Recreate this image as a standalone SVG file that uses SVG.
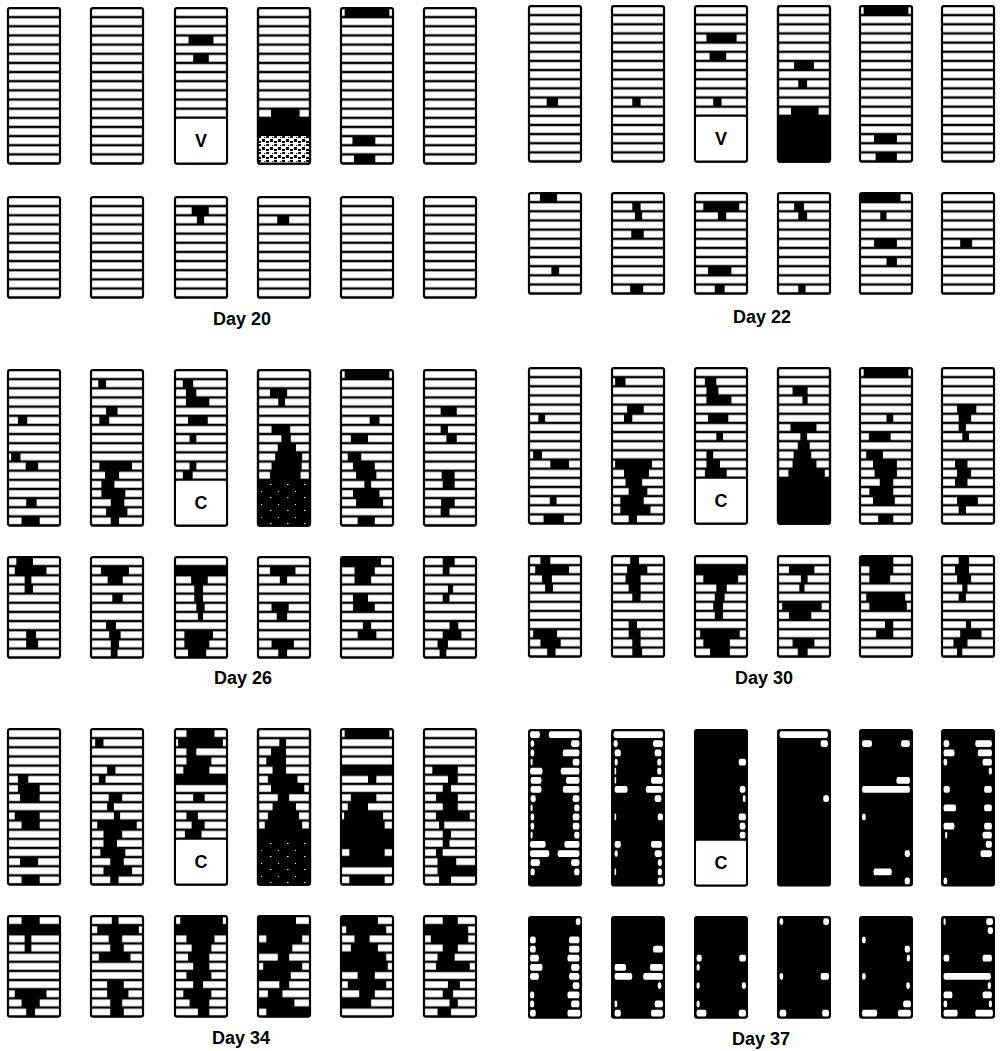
<svg xmlns="http://www.w3.org/2000/svg" width="1000" height="1051" viewBox="0 0 1000 1051">
<style>
.col{fill:url(#rows);stroke:#000;stroke-width:2.2}
.blk{fill:#000;stroke:#000;stroke-width:2}
.ol{fill:none;stroke:#000;stroke-width:2.2}
.box{fill:#fff;stroke:#000;stroke-width:2}
.s rect{fill:#000}
.w rect{fill:#fff}
.lab,.bx{font-family:"Liberation Sans",Arial,sans-serif;font-weight:bold;font-size:18px;text-anchor:middle;fill:#000}
</style>
<defs>
<pattern id="rows" width="52" height="9.15" patternUnits="userSpaceOnUse"><rect width="52" height="9.15" fill="#fff"/><rect width="52" height="1.2" fill="#000"/><rect y="7.95" width="52" height="1.2" fill="#000"/></pattern>
<pattern id="stD" width="17" height="13" patternUnits="userSpaceOnUse"><rect width="17" height="13" fill="#000"/><rect x="3" y="4" width="1" height="1" fill="#fff"/><rect x="12" y="10" width="1.5" height="1" fill="#fff"/></pattern>
<pattern id="stL" width="8" height="8" patternUnits="userSpaceOnUse"><rect width="8" height="8" fill="#fff"/><rect width="3" height="2" fill="#000"/><rect x="4" y="3" width="3" height="3" fill="#000"/><rect x="6" y="1" width="1" height="1" fill="#000"/><rect x="0" y="5" width="3" height="2" fill="#000"/></pattern>
</defs>
<g id="connectors"/>

<!-- Day 20 -->
<g id="d20t1" transform="translate(8,8)"><rect class="col" width="52" height="155.55" rx="2"/></g>
<g id="d20t2" transform="translate(91,8)"><rect class="col" width="52" height="155.55" rx="2"/></g>
<g id="d20t3" transform="translate(175,8)"><rect class="col" width="52" height="155.55" rx="2"/><g class="s" transform="scale(5.2,9.15)"><rect x="2.6" y="3" width="4.8" height="1"/><rect x="3.5" y="5" width="3" height="1"/></g><rect class="box" y="109.8" width="52" height="45.75" rx="2"/><text class="bx" x="26" y="139">V</text></g>
<g id="d20t4" transform="translate(258,8)"><rect class="col" width="52" height="155.55" rx="2"/><g class="s" transform="scale(5.2,9.15)"><rect x="2.5" y="11" width="5.5" height="1"/><rect x="0" y="12" width="10" height="2"/></g><rect y="128.1" width="52" height="27.45" fill="url(#stL)"/><rect class="ol" width="52" height="155.55" rx="2"/></g>
<g id="d20t5" transform="translate(341,8)"><rect class="col" width="52" height="155.55" rx="2"/><g class="s" transform="scale(5.2,9.15)"><rect x="0.7" y="0" width="8.6" height="1"/><rect x="2.2" y="14" width="4.4" height="1"/><rect x="2.5" y="16" width="4.1" height="1"/></g></g>
<g id="d20t6" transform="translate(424,8)"><rect class="col" width="52" height="155.55" rx="2"/></g>
<g id="d20b1" transform="translate(8,197)"><rect class="col" width="52" height="100.65" rx="2"/></g>
<g id="d20b2" transform="translate(91,197)"><rect class="col" width="52" height="100.65" rx="2"/></g>
<g id="d20b3" transform="translate(175,197)"><rect class="col" width="52" height="100.65" rx="2"/><g class="s" transform="scale(5.2,9.15)"><rect x="3.2" y="1" width="3.3" height="1"/><rect x="4.2" y="2" width="1.4" height="1"/></g></g>
<g id="d20b4" transform="translate(258,197)"><rect class="col" width="52" height="100.65" rx="2"/><g class="s" transform="scale(5.2,9.15)"><rect x="3.7" y="2" width="2.3" height="1"/></g></g>
<g id="d20b5" transform="translate(341,197)"><rect class="col" width="52" height="100.65" rx="2"/></g>
<g id="d20b6" transform="translate(424,197)"><rect class="col" width="52" height="100.65" rx="2"/></g>
<text class="lab" x="242" y="325">Day 20</text>

<!-- Day 22 -->
<g id="d22t1" transform="translate(529,6)"><rect class="col" width="52" height="155.55" rx="2"/><g class="s" transform="scale(5.2,9.15)"><rect x="3.4" y="10" width="2.2" height="1"/></g></g>
<g id="d22t2" transform="translate(612,6)"><rect class="col" width="52" height="155.55" rx="2"/><g class="s" transform="scale(5.2,9.15)"><rect x="3.9" y="10" width="1.6" height="1"/></g></g>
<g id="d22t3" transform="translate(695,6)"><rect class="col" width="52" height="155.55" rx="2"/><g class="s" transform="scale(5.2,9.15)"><rect x="2.2" y="3" width="5.8" height="1"/><rect x="2.8" y="5" width="3.2" height="1"/><rect x="3.5" y="10" width="1.6" height="1"/></g><rect class="box" y="109.8" width="52" height="45.75" rx="2"/><text class="bx" x="26" y="139">V</text></g>
<g id="d22t4" transform="translate(778,6)"><rect class="col" width="52" height="155.55" rx="2"/><g class="s" transform="scale(5.2,9.15)"><rect x="3.1" y="6" width="3.8" height="1"/><rect x="3.9" y="8" width="1.7" height="1"/><rect x="2.5" y="11" width="5.3" height="1"/><rect x="0" y="12" width="10" height="5"/></g><rect class="ol" width="52" height="155.55" rx="2"/></g>
<g id="d22t5" transform="translate(860,6)"><rect class="col" width="52" height="155.55" rx="2"/><g class="s" transform="scale(5.2,9.15)"><rect x="0.7" y="0" width="8.6" height="1"/><rect x="2.7" y="14" width="4.4" height="1"/><rect x="3" y="16" width="4.1" height="1"/></g></g>
<g id="d22t6" transform="translate(942,6)"><rect class="col" width="52" height="155.55" rx="2"/></g>
<g id="d22b1" transform="translate(529,193)"><rect class="col" width="52" height="100.65" rx="2"/><g class="s" transform="scale(5.2,9.15)"><rect x="2.1" y="0" width="3.3" height="1"/><rect x="4.3" y="8" width="1.5" height="1"/></g></g>
<g id="d22b2" transform="translate(612,193)"><rect class="col" width="52" height="100.65" rx="2"/><g class="s" transform="scale(5.2,9.15)"><rect x="3.9" y="1" width="1.6" height="1"/><rect x="4.4" y="2" width="1.4" height="1"/><rect x="3.7" y="4" width="2.4" height="1"/><rect x="3.5" y="10" width="2.5" height="1"/></g></g>
<g id="d22b3" transform="translate(695,193)"><rect class="col" width="52" height="100.65" rx="2"/><g class="s" transform="scale(5.2,9.15)"><rect x="1.6" y="1" width="6.9" height="1"/><rect x="4.4" y="2" width="1.6" height="1"/><rect x="2.5" y="8" width="4.5" height="1"/><rect x="3.8" y="10" width="1.9" height="1"/></g></g>
<g id="d22b4" transform="translate(778,193)"><rect class="col" width="52" height="100.65" rx="2"/><g class="s" transform="scale(5.2,9.15)"><rect x="3.1" y="1" width="1.9" height="1"/><rect x="3.9" y="2" width="1.7" height="1"/><rect x="3.9" y="10" width="1.4" height="1"/></g></g>
<g id="d22b5" transform="translate(860,193)"><rect class="col" width="52" height="100.65" rx="2"/><g class="s" transform="scale(5.2,9.15)"><rect x="0" y="0" width="7.8" height="1"/><rect x="3.9" y="2" width="1.2" height="1"/><rect x="2.7" y="5" width="4.4" height="1"/><rect x="5.1" y="7" width="2" height="1"/></g></g>
<g id="d22b6" transform="translate(942,193)"><rect class="col" width="52" height="100.65" rx="2"/><g class="s" transform="scale(5.2,9.15)"><rect x="3.5" y="5" width="2.3" height="1"/></g></g>
<text class="lab" x="762" y="323">Day 22</text>

<!-- Day 26 -->
<g id="d26t1" transform="translate(8,370)"><rect class="col" width="52" height="155.55" rx="2"/><g class="s" transform="scale(5.2,9.15)"><rect x="1.9" y="5" width="1.8" height="1"/><rect x="0.6" y="9" width="1.8" height="1"/><rect x="3.4" y="10" width="2.4" height="1"/><rect x="3.5" y="14" width="2" height="1"/><rect x="2.6" y="16" width="3.5" height="1"/></g></g>
<g id="d26t2" transform="translate(91,370)"><rect class="col" width="52" height="155.55" rx="2"/><g class="s" transform="scale(5.2,9.15)"><rect x="1.4" y="1" width="1.5" height="1"/><rect x="2.9" y="4" width="2.2" height="1"/><rect x="1.6" y="5" width="1.9" height="1"/><rect x="1.6" y="10" width="6.3" height="1"/><rect x="2.7" y="11" width="2.7" height="1"/><rect x="2" y="12" width="2.5" height="1"/><rect x="2" y="13" width="4.6" height="1"/><rect x="3.8" y="14" width="2.6" height="1"/><rect x="2.9" y="15" width="4.1" height="1"/><rect x="3.8" y="16" width="1.6" height="1"/></g></g>
<g id="d26t3" transform="translate(175,370)"><rect class="col" width="52" height="155.55" rx="2"/><g class="s" transform="scale(5.2,9.15)"><rect x="1.5" y="1" width="2" height="1"/><rect x="2.1" y="2" width="2" height="1"/><rect x="2.1" y="3" width="4.5" height="1"/><rect x="2.5" y="5" width="3.8" height="1"/><rect x="2.8" y="7" width="1.3" height="1"/><rect x="2.8" y="10" width="1.3" height="1"/><rect x="1.5" y="11" width="1.9" height="1"/></g><rect class="box" y="109.8" width="52" height="45.75" rx="2"/><text class="bx" x="26" y="139">C</text></g>
<g id="d26t4" transform="translate(258,370)"><rect class="col" width="52" height="155.55" rx="2"/><g class="s" transform="scale(5.2,9.15)"><rect x="2.3" y="2" width="3.3" height="1"/><rect x="3.9" y="3" width="1.3" height="1"/><rect x="2.6" y="6" width="3.6" height="1"/><rect x="4.5" y="7" width="1.8" height="1"/><rect x="3.8" y="8" width="3.5" height="1"/><rect x="3.3" y="9" width="5.2" height="1"/><rect x="2.6" y="10" width="5.8" height="1"/><rect x="2.3" y="11" width="5.9" height="1"/></g><rect y="109.8" width="52" height="45.75" fill="url(#stD)"/><rect class="ol" width="52" height="155.55" rx="2"/></g>
<g id="d26t5" transform="translate(341,370)"><rect class="col" width="52" height="155.55" rx="2"/><g class="s" transform="scale(5.2,9.15)"><rect x="0.7" y="0" width="8.6" height="1"/><rect x="5.5" y="5" width="1.9" height="1"/><rect x="1.9" y="7" width="3.3" height="1"/><rect x="1.3" y="9" width="2.6" height="1"/><rect x="2.3" y="10" width="4.2" height="1"/><rect x="2.9" y="11" width="3.9" height="1"/><rect x="4.5" y="12" width="1.3" height="1"/><rect x="2.3" y="13" width="5.1" height="1"/><rect x="2.9" y="14" width="5.2" height="1"/><rect x="3.2" y="16" width="3.3" height="1"/></g></g>
<g id="d26t6" transform="translate(424,370)"><rect class="col" width="52" height="155.55" rx="2"/><g class="s" transform="scale(5.2,9.15)"><rect x="3.2" y="4" width="3.1" height="1"/><rect x="3.2" y="6" width="1.4" height="1"/><rect x="4.3" y="7" width="2" height="1"/><rect x="3.4" y="11" width="2.5" height="1"/><rect x="3.6" y="12" width="2.3" height="1"/><rect x="3.3" y="14" width="2.6" height="1"/><rect x="3.2" y="15" width="1.7" height="1"/></g></g>
<g id="d26b1" transform="translate(8,557)"><rect class="col" width="52" height="100.65" rx="2"/><g class="s" transform="scale(5.2,9.15)"><rect x="1.6" y="0" width="3.2" height="1"/><rect x="1.3" y="1" width="6.1" height="1"/><rect x="3.2" y="2" width="1.3" height="1"/><rect x="3.2" y="3" width="1.6" height="1"/><rect x="3.5" y="8" width="1.9" height="1"/><rect x="3.5" y="9" width="2.3" height="1"/></g></g>
<g id="d26b2" transform="translate(91,557)"><rect class="col" width="52" height="100.65" rx="2"/><g class="s" transform="scale(5.2,9.15)"><rect x="1.9" y="1" width="5.4" height="1"/><rect x="3.2" y="2" width="2.9" height="1"/><rect x="4.1" y="4" width="2" height="1"/><rect x="2.9" y="7" width="1.9" height="1"/><rect x="3.5" y="8" width="2.2" height="1"/><rect x="3.8" y="9" width="1.6" height="1"/><rect x="3.8" y="10" width="1.3" height="1"/></g></g>
<g id="d26b3" transform="translate(175,557)"><rect class="col" width="52" height="100.65" rx="2"/><g class="s" transform="scale(5.2,9.15)"><rect x="0" y="1" width="10" height="1"/><rect x="3.1" y="2" width="3.2" height="1"/><rect x="3.7" y="3" width="1.7" height="2"/><rect x="4.1" y="5" width="1.6" height="1"/><rect x="4.4" y="6" width="1" height="1"/><rect x="1.8" y="8" width="5.5" height="1"/><rect x="1.8" y="9" width="4.8" height="1"/><rect x="2.5" y="10" width="3.5" height="1"/></g></g>
<g id="d26b4" transform="translate(258,557)"><rect class="col" width="52" height="100.65" rx="2"/><g class="s" transform="scale(5.2,9.15)"><rect x="2.3" y="1" width="4.9" height="1"/><rect x="4.2" y="2" width="1.4" height="1"/><rect x="2.6" y="5" width="3.3" height="1"/><rect x="3.6" y="6" width="2" height="1"/><rect x="2.6" y="9" width="4.3" height="1"/><rect x="3.9" y="10" width="1.7" height="1"/></g></g>
<g id="d26b5" transform="translate(341,557)"><rect class="col" width="52" height="100.65" rx="2"/><g class="s" transform="scale(5.2,9.15)"><rect x="0" y="0" width="7.7" height="1"/><rect x="2.6" y="1" width="3.9" height="1"/><rect x="2.6" y="2" width="3.2" height="1"/><rect x="2.3" y="4" width="2.9" height="1"/><rect x="2.3" y="5" width="4.2" height="1"/><rect x="4.2" y="7" width="1.6" height="1"/><rect x="3.2" y="8" width="3.6" height="1"/></g></g>
<g id="d26b6" transform="translate(424,557)"><rect class="col" width="52" height="100.65" rx="2"/><g class="s" transform="scale(5.2,9.15)"><rect x="3.6" y="0" width="2.3" height="1"/><rect x="3.6" y="1" width="1.3" height="1"/><rect x="4.6" y="3" width="1" height="1"/><rect x="3.6" y="4" width="1.3" height="1"/><rect x="4.9" y="7" width="1.7" height="1"/><rect x="3.6" y="8" width="3.6" height="1"/><rect x="2.6" y="9" width="2" height="1"/><rect x="3" y="10" width="1.3" height="1"/></g></g>
<text class="lab" x="243" y="684">Day 26</text>

<!-- Day 30 -->
<g id="d30t1" transform="translate(529,368)"><rect class="col" width="52" height="155.55" rx="2"/><g class="s" transform="scale(5.2,9.15)"><rect x="1.8" y="5" width="1.3" height="1"/><rect x="0.8" y="9" width="1.7" height="1"/><rect x="4.1" y="10" width="3.6" height="1"/><rect x="4" y="14" width="1.3" height="1"/><rect x="2.8" y="16" width="3.9" height="1"/></g></g>
<g id="d30t2" transform="translate(612,368)"><rect class="col" width="52" height="155.55" rx="2"/><g class="s" transform="scale(5.2,9.15)"><rect x="0.6" y="1" width="2" height="1"/><rect x="2.9" y="4" width="3.2" height="1"/><rect x="2.3" y="5" width="1.6" height="1"/><rect x="0.6" y="10" width="7.1" height="1"/><rect x="2.3" y="11" width="4.8" height="1"/><rect x="2.6" y="12" width="3.2" height="1"/><rect x="3.2" y="13" width="3.6" height="1"/><rect x="1.6" y="14" width="4.5" height="1"/><rect x="1.6" y="15" width="5.8" height="1"/><rect x="3.2" y="16" width="1.6" height="1"/></g></g>
<g id="d30t3" transform="translate(695,368)"><rect class="col" width="52" height="155.55" rx="2"/><g class="s" transform="scale(5.2,9.15)"><rect x="1.9" y="1" width="2.2" height="1"/><rect x="2.2" y="2" width="2.3" height="1"/><rect x="2.2" y="3" width="4.8" height="1"/><rect x="2.5" y="5" width="3.9" height="1"/><rect x="4.1" y="7" width="1.3" height="1"/><rect x="2.2" y="9" width="1.3" height="1"/><rect x="2.2" y="10" width="2.6" height="1"/><rect x="1.9" y="11" width="4.2" height="1"/></g><rect class="box" y="109.8" width="52" height="45.75" rx="2"/><text class="bx" x="26" y="139">C</text></g>
<g id="d30t4" transform="translate(778,368)"><rect class="col" width="52" height="155.55" rx="2"/><g class="s" transform="scale(5.2,9.15)"><rect x="2.8" y="2" width="2.9" height="1"/><rect x="4.7" y="3" width="1" height="1"/><rect x="2.4" y="6" width="5" height="1"/><rect x="4.3" y="7" width="1.3" height="1"/><rect x="3.8" y="8" width="2.3" height="1"/><rect x="3" y="9" width="3.4" height="1"/><rect x="2.8" y="10" width="4.6" height="1"/><rect x="2" y="11" width="7" height="1"/><rect x="0" y="12" width="10" height="5"/></g><rect class="ol" width="52" height="155.55" rx="2"/></g>
<g id="d30t5" transform="translate(860,368)"><rect class="col" width="52" height="155.55" rx="2"/><g class="s" transform="scale(5.2,9.15)"><rect x="0.7" y="0" width="8.6" height="1"/><rect x="5.1" y="5" width="1.3" height="1"/><rect x="1.7" y="7" width="4.2" height="1"/><rect x="1.2" y="9" width="3.2" height="1"/><rect x="2.5" y="10" width="4.6" height="1"/><rect x="2.8" y="11" width="4.3" height="1"/><rect x="3.8" y="12" width="2.6" height="1"/><rect x="1.8" y="13" width="4.6" height="1"/><rect x="2.5" y="14" width="4.2" height="1"/><rect x="3.5" y="16" width="2.9" height="1"/></g></g>
<g id="d30t6" transform="translate(942,368)"><rect class="col" width="52" height="155.55" rx="2"/><g class="s" transform="scale(5.2,9.15)"><rect x="2.9" y="4" width="3.7" height="1"/><rect x="3.2" y="5" width="2.4" height="1"/><rect x="3.2" y="6" width="1.4" height="1"/><rect x="3.9" y="7" width="1.3" height="1"/><rect x="2.5" y="10" width="2.4" height="1"/><rect x="2.9" y="11" width="2.7" height="1"/><rect x="2.5" y="12" width="2.4" height="1"/><rect x="2.9" y="14" width="4" height="1"/><rect x="3.2" y="15" width="1.4" height="1"/></g></g>
<g id="d30b1" transform="translate(529,556)"><rect class="col" width="52" height="100.65" rx="2"/><g class="s" transform="scale(5.2,9.15)"><rect x="2.2" y="0" width="1.9" height="1"/><rect x="1.2" y="1" width="6.5" height="1"/><rect x="2.5" y="2" width="1.9" height="1"/><rect x="3.1" y="3" width="1.5" height="1"/><rect x="0.8" y="8" width="4.6" height="1"/><rect x="2.2" y="9" width="3.9" height="1"/><rect x="3.5" y="10" width="1.6" height="1"/></g></g>
<g id="d30b2" transform="translate(612,556)"><rect class="col" width="52" height="100.65" rx="2"/><g class="s" transform="scale(5.2,9.15)"><rect x="3.5" y="0" width="1.7" height="1"/><rect x="2.9" y="1" width="3.9" height="1"/><rect x="2.6" y="2" width="2.9" height="1"/><rect x="3.2" y="3" width="2.3" height="1"/><rect x="3.9" y="4" width="1.6" height="1"/><rect x="3.2" y="7" width="1.6" height="1"/><rect x="3.2" y="8" width="2.3" height="1"/><rect x="3.9" y="9" width="1.6" height="1"/><rect x="3.9" y="10" width="1.9" height="1"/></g></g>
<g id="d30b3" transform="translate(695,556)"><rect class="col" width="52" height="100.65" rx="2"/><g class="s" transform="scale(5.2,9.15)"><rect x="0" y="1" width="10" height="1"/><rect x="1.6" y="2" width="6.7" height="1"/><rect x="4.1" y="3" width="2" height="1"/><rect x="3.8" y="4" width="1.9" height="1"/><rect x="3.5" y="5" width="1.9" height="1"/><rect x="3.8" y="6" width="1.6" height="1"/><rect x="1" y="8" width="7.6" height="1"/><rect x="1.6" y="9" width="5.1" height="1"/><rect x="2.9" y="10" width="3.8" height="1"/></g></g>
<g id="d30b4" transform="translate(778,556)"><rect class="col" width="52" height="100.65" rx="2"/><g class="s" transform="scale(5.2,9.15)"><rect x="2.1" y="1" width="4.9" height="1"/><rect x="4.4" y="2" width="1.3" height="1"/><rect x="4.1" y="3" width="1" height="1"/><rect x="0.8" y="5" width="7.6" height="1"/><rect x="2.1" y="6" width="4.3" height="1"/><rect x="2.8" y="9" width="4.2" height="1"/><rect x="3.8" y="10" width="1.9" height="1"/></g></g>
<g id="d30b5" transform="translate(860,556)"><rect class="col" width="52" height="100.65" rx="2"/><g class="s" transform="scale(5.2,9.15)"><rect x="0" y="0" width="6.4" height="1"/><rect x="1.8" y="1" width="4.6" height="1"/><rect x="1.8" y="2" width="4" height="1"/><rect x="1.2" y="4" width="7.5" height="1"/><rect x="1.8" y="5" width="7.2" height="1"/><rect x="4.8" y="7" width="1.6" height="1"/><rect x="3.1" y="8" width="3.3" height="1"/></g></g>
<g id="d30b6" transform="translate(942,556)"><rect class="col" width="52" height="100.65" rx="2"/><g class="s" transform="scale(5.2,9.15)"><rect x="3.2" y="0" width="2" height="1"/><rect x="2.5" y="1" width="2.7" height="1"/><rect x="2.9" y="2" width="2.7" height="1"/><rect x="3.9" y="3" width="1" height="1"/><rect x="3.2" y="4" width="1.4" height="1"/><rect x="4.6" y="7" width="1" height="1"/><rect x="3.5" y="8" width="4.1" height="1"/><rect x="2.2" y="9" width="2.7" height="1"/><rect x="2.9" y="10" width="1" height="1"/></g></g>
<text class="lab" x="764" y="684">Day 30</text>

<!-- Day 34 -->
<g id="d34t1" transform="translate(8,729)"><rect class="col" width="52" height="155.55" rx="2"/><g class="s" transform="scale(5.2,9.15)"><rect x="1.9" y="5" width="2" height="1"/><rect x="1.9" y="6" width="4.2" height="1"/><rect x="2.3" y="7" width="3.8" height="1"/><rect x="1.3" y="9" width="4.8" height="1"/><rect x="2.6" y="10" width="3.5" height="1"/><rect x="2.3" y="14" width="3.5" height="1"/><rect x="2.6" y="16" width="3.5" height="1"/></g></g>
<g id="d34t2" transform="translate(91,729)"><rect class="col" width="52" height="155.55" rx="2"/><g class="s" transform="scale(5.2,9.15)"><rect x="0.8" y="1" width="1.6" height="1"/><rect x="3.1" y="4" width="1.6" height="1"/><rect x="1.5" y="5" width="1.3" height="1"/><rect x="3.4" y="7" width="2.6" height="1"/><rect x="3.1" y="8" width="1.3" height="1"/><rect x="4.4" y="9" width="1.2" height="1"/><rect x="1.2" y="10" width="7.6" height="1"/><rect x="2.4" y="11" width="3.6" height="1"/><rect x="2.4" y="12" width="2.6" height="1"/><rect x="1.8" y="13" width="4.8" height="1"/><rect x="3.7" y="14" width="2.6" height="1"/><rect x="2.4" y="15" width="5.5" height="1"/><rect x="3.7" y="16" width="1.6" height="1"/></g></g>
<g id="d34t3" transform="translate(175,729)"><rect class="col" width="52" height="155.55" rx="2"/><g class="s" transform="scale(5.2,9.15)"><rect x="2.2" y="0" width="5.4" height="1"/><rect x="0.6" y="1" width="8.6" height="1"/><rect x="2.2" y="2" width="1.9" height="1"/><rect x="2.2" y="3" width="4.8" height="1"/><rect x="1.6" y="4" width="5" height="1"/><rect x="0" y="5" width="10" height="1"/><rect x="3.5" y="7" width="2.2" height="1"/><rect x="2.2" y="9" width="2.2" height="1"/><rect x="3.2" y="10" width="2.5" height="1"/><rect x="1.9" y="11" width="3.2" height="1"/></g><rect class="box" y="109.8" width="52" height="45.75" rx="2"/><text class="bx" x="26" y="139">C</text></g>
<g id="d34t4" transform="translate(258,729)"><rect class="col" width="52" height="155.55" rx="2"/><g class="s" transform="scale(5.2,9.15)"><rect x="4.1" y="1" width="1.3" height="1"/><rect x="2.5" y="2" width="2.9" height="1"/><rect x="1.6" y="3" width="3.8" height="1"/><rect x="2.8" y="4" width="2.6" height="1"/><rect x="1.9" y="5" width="5.7" height="1"/><rect x="2.5" y="6" width="6.4" height="1"/><rect x="3.8" y="7" width="2.2" height="1"/><rect x="2.8" y="8" width="4.5" height="1"/><rect x="1.9" y="9" width="6" height="1"/><rect x="1.3" y="10" width="7.2" height="1"/><rect x="0" y="11" width="10" height="1"/></g><rect y="109.8" width="52" height="45.75" fill="url(#stD)"/><rect class="ol" width="52" height="155.55" rx="2"/></g>
<g id="d34t5" transform="translate(341,729)"><rect class="col" width="52" height="155.55" rx="2"/><g class="s" transform="scale(5.2,9.15)"><rect x="0.7" y="0" width="8.6" height="1"/><rect x="0" y="4" width="10" height="1"/><rect x="5.2" y="5" width="1.6" height="1"/><rect x="1.9" y="7" width="4.9" height="1"/><rect x="1.3" y="8" width="3.9" height="1"/><rect x="0.6" y="9" width="7.5" height="1"/><rect x="0" y="10" width="8.4" height="1"/><rect x="0" y="11" width="10" height="2"/><rect x="1.6" y="13" width="6.8" height="1"/><rect x="0" y="14" width="10" height="1"/><rect x="1.6" y="16" width="6.8" height="1"/></g></g>
<g id="d34t6" transform="translate(424,729)"><rect class="col" width="52" height="155.55" rx="2"/><g class="s" transform="scale(5.2,9.15)"><rect x="1.6" y="4" width="4.9" height="1"/><rect x="4.6" y="5" width="1.9" height="1"/><rect x="3.6" y="6" width="1.6" height="1"/><rect x="2.3" y="7" width="4.2" height="1"/><rect x="3.6" y="8" width="2.9" height="1"/><rect x="2.3" y="9" width="6.5" height="1"/><rect x="2.9" y="10" width="1" height="1"/><rect x="3.6" y="11" width="1.6" height="1"/><rect x="3.6" y="12" width="1.3" height="1"/><rect x="2.3" y="13" width="1.3" height="1"/><rect x="2.6" y="14" width="3.6" height="1"/><rect x="2.6" y="15" width="7.4" height="1"/><rect x="2.9" y="16" width="2.3" height="1"/></g></g>
<g id="d34b1" transform="translate(8,916)"><rect class="col" width="52" height="100.65" rx="2"/><g class="s" transform="scale(5.2,9.15)"><rect x="2.6" y="0" width="3.5" height="1"/><rect x="0" y="1" width="10" height="1"/><rect x="3.2" y="2" width="1.3" height="2"/><rect x="1.3" y="8" width="6.1" height="1"/><rect x="2.6" y="9" width="3.5" height="1"/><rect x="3.5" y="10" width="1.7" height="1"/></g></g>
<g id="d34b2" transform="translate(91,916)"><rect class="col" width="52" height="100.65" rx="2"/><g class="s" transform="scale(5.2,9.15)"><rect x="4" y="0" width="1.3" height="1"/><rect x="1.2" y="1" width="8" height="1"/><rect x="3.4" y="2" width="2.6" height="1"/><rect x="3.7" y="3" width="2.6" height="1"/><rect x="1.5" y="4" width="6.1" height="1"/><rect x="3.1" y="7" width="3.2" height="1"/><rect x="3.1" y="8" width="4.1" height="1"/><rect x="3.7" y="9" width="2.3" height="1"/><rect x="3.7" y="10" width="2.6" height="1"/></g></g>
<g id="d34b3" transform="translate(175,916)"><rect class="col" width="52" height="100.65" rx="2"/><g class="s" transform="scale(5.2,9.15)"><rect x="1" y="0" width="8.2" height="1"/><rect x="0" y="1" width="10" height="1"/><rect x="2.2" y="2" width="5.4" height="1"/><rect x="3.2" y="3" width="3.8" height="1"/><rect x="2.5" y="4" width="4.1" height="1"/><rect x="3.5" y="5" width="3.1" height="1"/><rect x="2.2" y="6" width="4.8" height="1"/><rect x="3.5" y="7" width="1.9" height="1"/><rect x="1.6" y="8" width="5.4" height="1"/><rect x="2.8" y="9" width="3.8" height="1"/><rect x="4.4" y="10" width="2.2" height="1"/></g></g>
<g id="d34b4" transform="translate(258,916)"><rect class="col" width="52" height="100.65" rx="2"/><g class="s" transform="scale(5.2,9.15)"><rect x="0" y="0" width="7.3" height="1"/><rect x="0" y="1" width="10" height="1"/><rect x="1.6" y="2" width="6.9" height="1"/><rect x="0" y="3" width="6.6" height="1"/><rect x="3.8" y="4" width="2.2" height="1"/><rect x="1" y="5" width="7.5" height="1"/><rect x="0" y="6" width="6.3" height="1"/><rect x="4.1" y="7" width="1.9" height="1"/><rect x="1.9" y="8" width="2.8" height="1"/><rect x="0" y="9" width="7" height="1"/><rect x="1.6" y="10" width="8.4" height="1"/></g></g>
<g id="d34b5" transform="translate(341,916)"><rect class="col" width="52" height="100.65" rx="2"/><g class="s" transform="scale(5.2,9.15)"><rect x="0" y="0" width="7.1" height="1"/><rect x="1" y="1" width="7.7" height="1"/><rect x="2.6" y="2" width="2.9" height="1"/><rect x="1.9" y="3" width="5.2" height="1"/><rect x="0" y="4" width="8.7" height="1"/><rect x="0" y="5" width="9" height="1"/><rect x="3.2" y="6" width="3.3" height="1"/><rect x="1.3" y="7" width="7.4" height="1"/><rect x="3.5" y="8" width="3" height="1"/><rect x="0" y="9" width="5.8" height="1"/></g></g>
<g id="d34b6" transform="translate(424,916)"><rect class="col" width="52" height="100.65" rx="2"/><g class="s" transform="scale(5.2,9.15)"><rect x="3.6" y="0" width="2.9" height="1"/><rect x="0" y="1" width="8.5" height="1"/><rect x="1.3" y="2" width="7.2" height="1"/><rect x="3.6" y="3" width="2.9" height="1"/><rect x="2.6" y="4" width="3.3" height="1"/><rect x="2.3" y="5" width="6.5" height="1"/><rect x="4.6" y="7" width="2.3" height="1"/><rect x="3.6" y="8" width="2" height="1"/><rect x="4.9" y="9" width="1.6" height="1"/><rect x="2.6" y="10" width="2.6" height="1"/></g></g>
<text class="lab" x="241" y="1044">Day 34</text>

<!-- Day 37 -->
<g id="d37t1" transform="translate(529,730)"><rect class="blk" width="52" height="155.55" rx="2"/><g class="w" transform="scale(5.2,9.15)"><rect x="0.2" y="0.13" width="1.9" height="0.74" rx="0.3"/><rect x="3.8" y="0.13" width="5.9" height="0.74" rx="0.3"/><rect x="0.3" y="1.13" width="0.7" height="0.74" rx="0.3"/><rect x="8.1" y="1.13" width="1.6" height="0.74" rx="0.3"/><rect x="0.3" y="2.13" width="0.7" height="0.74" rx="0.3"/><rect x="6.5" y="2.13" width="3.2" height="0.74" rx="0.3"/><rect x="0.3" y="3.13" width="0.4" height="0.74" rx="0.2"/><rect x="8.4" y="3.13" width="1.3" height="0.74" rx="0.3"/><rect x="0.2" y="4.13" width="2.4" height="0.74" rx="0.3"/><rect x="6.1" y="4.13" width="3.6" height="0.74" rx="0.3"/><rect x="0.3" y="5.13" width="2.1" height="0.74" rx="0.3"/><rect x="7.1" y="5.13" width="2.6" height="0.74" rx="0.3"/><rect x="0.3" y="6.13" width="2.1" height="0.74" rx="0.3"/><rect x="6.5" y="6.13" width="3.2" height="0.74" rx="0.3"/><rect x="0.3" y="7.13" width="1" height="0.74" rx="0.3"/><rect x="8.4" y="7.13" width="1.3" height="0.74" rx="0.3"/><rect x="0.3" y="8.13" width="0.4" height="0.74" rx="0.2"/><rect x="8.7" y="8.13" width="1" height="0.74" rx="0.3"/><rect x="0.3" y="9.13" width="0.7" height="0.74" rx="0.3"/><rect x="8.4" y="9.13" width="1.3" height="0.74" rx="0.3"/><rect x="0.3" y="10.13" width="0.7" height="0.74" rx="0.3"/><rect x="8.4" y="10.13" width="1.3" height="0.74" rx="0.3"/><rect x="0.3" y="11.13" width="0.4" height="0.74" rx="0.2"/><rect x="8.7" y="11.13" width="1" height="0.74" rx="0.3"/><rect x="0.2" y="12.13" width="3" height="0.74" rx="0.3"/><rect x="6.8" y="12.13" width="2.9" height="0.74" rx="0.3"/><rect x="0.2" y="13.13" width="3.7" height="0.74" rx="0.3"/><rect x="5.5" y="13.13" width="4.2" height="0.74" rx="0.3"/><rect x="0.3" y="14.13" width="1.8" height="0.74" rx="0.3"/><rect x="8.1" y="14.13" width="1.6" height="0.74" rx="0.3"/><rect x="0.3" y="15.13" width="0.8" height="0.74" rx="0.3"/><rect x="8.7" y="15.13" width="1" height="0.74" rx="0.3"/></g></g>
<g id="d37t2" transform="translate(612,730)"><rect class="blk" width="52" height="155.55" rx="2"/><g class="w" transform="scale(5.2,9.15)"><rect x="0.3" y="0.13" width="9.5" height="0.74" rx="0.3"/><rect x="0.3" y="1.13" width="0.8" height="0.74" rx="0.3"/><rect x="7.9" y="1.13" width="1.9" height="0.74" rx="0.3"/><rect x="0.5" y="2.13" width="1.2" height="0.74" rx="0.3"/><rect x="8.2" y="2.13" width="1.3" height="0.74" rx="0.3"/><rect x="0.5" y="3.13" width="0.6" height="0.74" rx="0.3"/><rect x="8.7" y="3.13" width="0.8" height="0.74" rx="0.3"/><rect x="0.5" y="4.13" width="0.3" height="0.74" rx="0.15"/><rect x="8.7" y="4.13" width="0.8" height="0.74" rx="0.3"/><rect x="0.5" y="5.13" width="0.3" height="0.74" rx="0.15"/><rect x="7.5" y="5.13" width="2.3" height="0.74" rx="0.3"/><rect x="0.5" y="6.13" width="2.5" height="0.74" rx="0.3"/><rect x="6.5" y="6.13" width="3.3" height="0.74" rx="0.3"/><rect x="8.2" y="7.13" width="1.3" height="0.74" rx="0.3"/><rect x="0.5" y="9.13" width="0.3" height="0.74" rx="0.15"/><rect x="8.8" y="9.13" width="1" height="0.74" rx="0.3"/><rect x="0.5" y="12.13" width="1.2" height="0.74" rx="0.3"/><rect x="7.5" y="12.13" width="2.1" height="0.74" rx="0.3"/><rect x="0.5" y="13.13" width="0.6" height="0.74" rx="0.3"/><rect x="8.2" y="13.13" width="1.4" height="0.74" rx="0.3"/><rect x="8.8" y="14.13" width="0.8" height="0.74" rx="0.3"/><rect x="0.5" y="15.13" width="0.3" height="0.74" rx="0.15"/><rect x="8.8" y="15.13" width="0.8" height="0.74" rx="0.3"/><rect x="8.8" y="16.13" width="1" height="0.74" rx="0.3"/></g></g>
<g id="d37t3" transform="translate(695,730)"><rect class="blk" width="52" height="155.55" rx="2"/><g class="w" transform="scale(5.2,9.15)"><rect x="8.4" y="3.13" width="1.4" height="0.74" rx="0.3"/><rect x="8.6" y="6.13" width="1.1" height="0.74" rx="0.3"/><rect x="9.2" y="7.13" width="0.5" height="0.74" rx="0.2"/><rect x="8.4" y="9.13" width="1.4" height="0.74" rx="0.3"/><rect x="8.6" y="10.13" width="1.1" height="0.74" rx="0.3"/><rect x="8.6" y="11.13" width="1.1" height="0.74" rx="0.3"/></g><rect class="box" y="109.8" width="52" height="45.75" rx="2"/><text class="bx" x="26" y="139">C</text></g>
<g id="d37t4" transform="translate(778,730)"><rect class="blk" width="52" height="155.55" rx="2"/><g class="w" transform="scale(5.2,9.15)"><rect x="0.3" y="0.13" width="9.3" height="0.74" rx="0.3"/><rect x="8.2" y="1.13" width="1.4" height="0.74" rx="0.3"/><rect x="8.7" y="7.13" width="1.1" height="0.74" rx="0.3"/></g></g>
<g id="d37t5" transform="translate(860,730)"><rect class="blk" width="52" height="155.55" rx="2"/><g class="w" transform="scale(5.2,9.15)"><rect x="0.4" y="1.13" width="1.9" height="0.74" rx="0.3"/><rect x="7.9" y="1.13" width="1.7" height="0.74" rx="0.3"/><rect x="7" y="5.13" width="2.6" height="0.74" rx="0.3"/><rect x="0.4" y="6.13" width="9.2" height="0.74" rx="0.3"/><rect x="0.4" y="9.13" width="0.7" height="0.74" rx="0.3"/><rect x="8.6" y="13.13" width="1" height="0.74" rx="0.3"/><rect x="2.6" y="15.13" width="3.5" height="0.74" rx="0.3"/><rect x="8.6" y="16.13" width="1" height="0.74" rx="0.3"/></g></g>
<g id="d37t6" transform="translate(942,730)"><rect class="blk" width="52" height="155.55" rx="2"/><g class="w" transform="scale(5.2,9.15)"><rect x="0.3" y="1.13" width="1.1" height="0.74" rx="0.3"/><rect x="6.4" y="1.13" width="3.2" height="0.74" rx="0.3"/><rect x="0.3" y="2.13" width="2.1" height="0.74" rx="0.3"/><rect x="6.9" y="2.13" width="2.7" height="0.74" rx="0.3"/><rect x="0.3" y="3.13" width="0.7" height="0.74" rx="0.3"/><rect x="7.8" y="3.13" width="1.8" height="0.74" rx="0.3"/><rect x="9" y="4.13" width="0.6" height="0.74" rx="0.25"/><rect x="0.3" y="6.13" width="1.2" height="0.74" rx="0.3"/><rect x="8.1" y="6.13" width="1.5" height="0.74" rx="0.3"/><rect x="0.3" y="8.13" width="2.4" height="0.74" rx="0.3"/><rect x="8.1" y="8.13" width="1.5" height="0.74" rx="0.3"/><rect x="0.3" y="10.13" width="2.1" height="0.74" rx="0.3"/><rect x="8.1" y="10.13" width="1.5" height="0.74" rx="0.3"/><rect x="0.6" y="11.13" width="0.4" height="0.74" rx="0.2"/><rect x="7.8" y="11.13" width="1.8" height="0.74" rx="0.3"/><rect x="8.4" y="12.13" width="1.2" height="0.74" rx="0.3"/><rect x="7.4" y="13.13" width="2.2" height="0.74" rx="0.3"/><rect x="0.3" y="16.13" width="0.7" height="0.74" rx="0.3"/></g></g>
<g id="d37b1" transform="translate(529,917)"><rect class="blk" width="52" height="100.65" rx="2"/><g class="w" transform="scale(5.2,9.15)"><rect x="9" y="0.13" width="0.9" height="0.74" rx="0.3"/><rect x="0.2" y="2.13" width="1.1" height="0.74" rx="0.3"/><rect x="7.7" y="2.13" width="2" height="0.74" rx="0.3"/><rect x="0.2" y="3.13" width="1.1" height="0.74" rx="0.3"/><rect x="7.7" y="3.13" width="2" height="0.74" rx="0.3"/><rect x="0.2" y="4.13" width="1.7" height="0.74" rx="0.3"/><rect x="7.4" y="4.13" width="2.3" height="0.74" rx="0.3"/><rect x="0.2" y="5.13" width="2.4" height="0.74" rx="0.3"/><rect x="8.1" y="5.13" width="1.6" height="0.74" rx="0.3"/><rect x="0.2" y="6.13" width="1.7" height="0.74" rx="0.3"/><rect x="7.7" y="6.13" width="2" height="0.74" rx="0.3"/><rect x="8.4" y="7.13" width="1.3" height="0.74" rx="0.3"/><rect x="0.2" y="8.13" width="0.8" height="0.74" rx="0.3"/><rect x="7.4" y="8.13" width="2.3" height="0.74" rx="0.3"/><rect x="0.2" y="9.13" width="0.8" height="0.74" rx="0.3"/><rect x="8.1" y="9.13" width="1.6" height="0.74" rx="0.3"/><rect x="0.2" y="10.13" width="1.1" height="0.74" rx="0.3"/><rect x="7.4" y="10.13" width="2.5" height="0.74" rx="0.3"/></g></g>
<g id="d37b2" transform="translate(612,917)"><rect class="blk" width="52" height="100.65" rx="2"/><g class="w" transform="scale(5.2,9.15)"><rect x="7.9" y="3.13" width="1.9" height="0.74" rx="0.3"/><rect x="0.5" y="5.13" width="2.2" height="0.74" rx="0.3"/><rect x="7.3" y="5.13" width="2.5" height="0.74" rx="0.3"/><rect x="0.5" y="6.13" width="3.4" height="0.74" rx="0.3"/><rect x="6" y="6.13" width="3.8" height="0.74" rx="0.3"/><rect x="8.8" y="7.13" width="0.7" height="0.74" rx="0.3"/><rect x="0.5" y="9.13" width="0.5" height="0.74" rx="0.2"/><rect x="8.2" y="9.13" width="1.6" height="0.74" rx="0.3"/><rect x="0.5" y="10.13" width="1.2" height="0.74" rx="0.3"/><rect x="7.5" y="10.13" width="2.3" height="0.74" rx="0.3"/></g></g>
<g id="d37b3" transform="translate(695,917)"><rect class="blk" width="52" height="100.65" rx="2"/><g class="w" transform="scale(5.2,9.15)"><rect x="0.3" y="4.13" width="1" height="0.74" rx="0.3"/><rect x="8.5" y="4.13" width="1.3" height="0.74" rx="0.3"/><rect x="0.3" y="5.13" width="0.6" height="0.74" rx="0.3"/><rect x="0.3" y="7.13" width="0.6" height="0.74" rx="0.3"/><rect x="9" y="7.13" width="0.8" height="0.74" rx="0.3"/><rect x="0.3" y="9.13" width="0.6" height="0.74" rx="0.3"/><rect x="0.3" y="10.13" width="1.9" height="0.74" rx="0.3"/><rect x="8.4" y="10.13" width="1.4" height="0.74" rx="0.3"/></g></g>
<g id="d37b4" transform="translate(778,917)"><rect class="blk" width="52" height="100.65" rx="2"/><g class="w" transform="scale(5.2,9.15)"><rect x="0.3" y="0.13" width="0.7" height="0.74" rx="0.3"/><rect x="8.7" y="0.13" width="1.1" height="0.74" rx="0.3"/><rect x="0.3" y="6.13" width="0.7" height="0.74" rx="0.3"/><rect x="8.2" y="6.13" width="1.6" height="0.74" rx="0.3"/><rect x="0.3" y="10.13" width="1.3" height="0.74" rx="0.3"/><rect x="8.5" y="10.13" width="1.3" height="0.74" rx="0.3"/></g></g>
<g id="d37b5" transform="translate(860,917)"><rect class="blk" width="52" height="100.65" rx="2"/><g class="w" transform="scale(5.2,9.15)"><rect x="0.4" y="2.13" width="0.7" height="0.74" rx="0.3"/><rect x="8.6" y="3.13" width="1" height="0.74" rx="0.3"/><rect x="9" y="4.13" width="0.6" height="0.74" rx="0.25"/><rect x="0.4" y="6.13" width="0.7" height="0.74" rx="0.3"/><rect x="8.9" y="7.13" width="0.7" height="0.74" rx="0.3"/><rect x="8.3" y="9.13" width="1.5" height="0.74" rx="0.3"/><rect x="0.4" y="10.13" width="2.9" height="0.74" rx="0.3"/><rect x="7.3" y="10.13" width="2.5" height="0.74" rx="0.3"/></g></g>
<g id="d37b6" transform="translate(942,917)"><rect class="blk" width="52" height="100.65" rx="2"/><g class="w" transform="scale(5.2,9.15)"><rect x="0.3" y="0.13" width="0.4" height="0.74" rx="0.2"/><rect x="8.5" y="0.13" width="1.3" height="0.74" rx="0.3"/><rect x="8.8" y="1.13" width="1" height="0.74" rx="0.3"/><rect x="0.3" y="4.13" width="1.1" height="0.74" rx="0.3"/><rect x="7.8" y="4.13" width="1.8" height="0.74" rx="0.3"/><rect x="0.3" y="6.13" width="9.1" height="0.74" rx="0.3"/><rect x="8.8" y="7.13" width="0.6" height="0.74" rx="0.25"/><rect x="0.3" y="8.13" width="1.7" height="0.74" rx="0.3"/><rect x="7.8" y="8.13" width="1.8" height="0.74" rx="0.3"/><rect x="0.3" y="9.13" width="0.7" height="0.74" rx="0.3"/><rect x="9" y="9.13" width="0.6" height="0.74" rx="0.25"/><rect x="0.3" y="10.13" width="2.7" height="0.74" rx="0.3"/><rect x="6.4" y="10.13" width="3.4" height="0.74" rx="0.3"/></g></g>
<text class="lab" x="761" y="1045">Day 37</text>
</svg>
